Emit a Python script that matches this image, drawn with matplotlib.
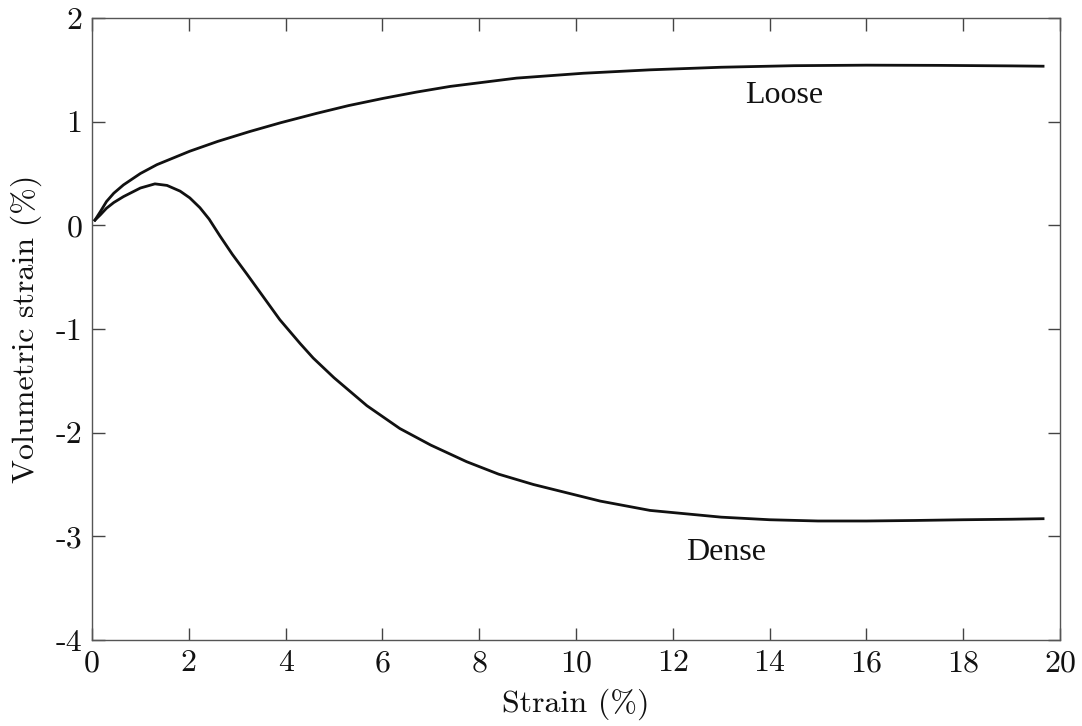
import matplotlib
matplotlib.use("Agg")
import matplotlib.pyplot as plt

# volumetric response of loose and dense sand during drained shearing
loose_strain = [0.06, 0.17, 0.30, 0.45, 0.65, 1.0, 1.34, 2.02, 2.6, 3.26, 3.9,
                4.64, 5.3, 6.02, 6.7, 7.40, 8.77, 10.15, 11.53, 13.0, 14.5,
                16.0, 17.5, 19.0, 19.65]
loose_vol = [0.05, 0.13, 0.23, 0.31, 0.39, 0.50, 0.585, 0.715, 0.81, 0.905,
             0.99, 1.08, 1.155, 1.225, 1.285, 1.34, 1.42, 1.467, 1.50, 1.525,
             1.54, 1.545, 1.543, 1.538, 1.535]

dense_strain = [0.06, 0.17, 0.30, 0.45, 0.65, 1.0, 1.30, 1.55, 1.82, 2.02,
                2.23, 2.42, 2.64, 2.9, 3.20, 3.88, 4.30, 4.57, 5.0, 5.68, 6.36,
                7.0, 7.74, 8.4, 9.12, 10.5, 11.53, 13.0, 14.0, 15.0, 16.0,
                17.0, 18.0, 19.0, 19.65]
dense_vol = [0.05, 0.10, 0.165, 0.22, 0.277, 0.36, 0.40, 0.385, 0.33, 0.265,
             0.17, 0.06, -0.10, -0.28, -0.47, -0.91, -1.14, -1.28, -1.47,
             -1.74, -1.96, -2.12, -2.28, -2.40, -2.50, -2.66, -2.75, -2.815,
             -2.84, -2.852, -2.852, -2.847, -2.84, -2.835, -2.83]

plt.rcParams["font.family"] = "cmr10"
plt.rcParams["mathtext.fontset"] = "cm"
plt.rcParams["axes.unicode_minus"] = False
plt.rcParams["axes.formatter.use_mathtext"] = False

fig = plt.figure(figsize=(10.82, 7.26), dpi=100)
ax = fig.add_axes([92 / 1082, 86 / 726, 968 / 1082, 622 / 726])

ax.plot(loose_strain, loose_vol, color="#111111", lw=2.0)
ax.plot(dense_strain, dense_vol, color="#111111", lw=2.0)

ax.text(14.3, 1.25, "Loose", family="Liberation Serif", fontsize=23,
        ha="center", va="center", color="#111111")
ax.text(13.1, -3.16, "Dense", family="Liberation Serif", fontsize=23,
        ha="center", va="center", color="#111111")

ax.set_xlim(0, 20)
ax.set_ylim(-4, 2)
ax.set_xticks(range(0, 21, 2))
ax.set_yticks(range(-4, 3))
ax.tick_params(direction="in", length=9, width=1.0, top=True, right=True,
               labelsize=23, colors="#444444", labelcolor="#111111", pad=7)
for side in ax.spines.values():
    side.set_color("#555555")
    side.set_linewidth(1.0)

ax.set_xlabel("Strain (%)", fontsize=23, color="#111111", labelpad=8)
ax.set_ylabel("Volumetric strain (%)", fontsize=23, color="#111111", labelpad=10)

fig.savefig("out.png", dpi=100)
